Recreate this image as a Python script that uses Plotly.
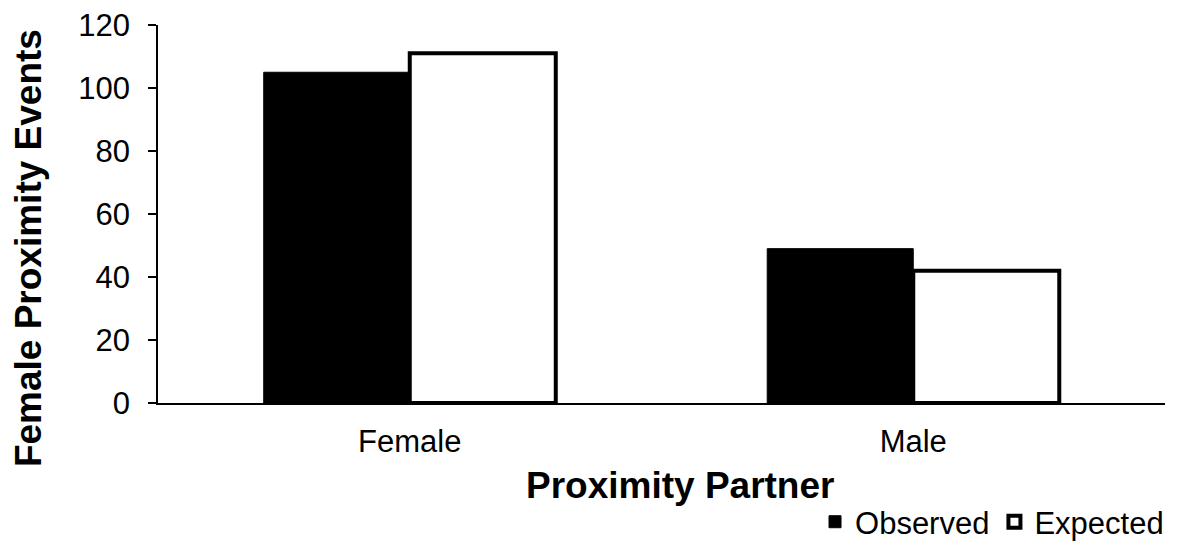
import plotly.graph_objects as go

# Proximity events per partner sex
partners = ["Female", "Male"]
observed = [105, 49]
expected = [111, 42]

y_ticks = [0, 20, 40, 60, 80, 100, 120]

FONT = "Liberation Sans, Arial, sans-serif"

fig = go.Figure()

fig.add_trace(
    go.Bar(
        x=partners,
        y=observed,
        name="Observed",
        marker=dict(color="black", line=dict(color="black", width=1)),
    )
)
fig.add_trace(
    go.Bar(
        x=partners,
        y=expected,
        name="Expected",
        marker=dict(color="white", line=dict(color="black", width=4)),
    )
)

# axis titles sit off-centre in the original, so place them by hand
fig.add_annotation(
    text="<b>Female Proximity Events</b>",
    xref="paper", yref="paper",
    x=-0.129, y=0.41,
    xanchor="center", yanchor="middle",
    textangle=-90,
    showarrow=False,
    font=dict(size=37),
)
fig.add_annotation(
    text="<b>Proximity Partner</b>",
    xref="paper", yref="paper",
    x=0.518, y=-0.217,
    xanchor="center", yanchor="middle",
    showarrow=False,
    font=dict(size=37),
)

# the page body adds an 8px margin, so the figure is 8px smaller each way
fig.update_layout(
    width=1173,
    height=533,
    margin=dict(l=150, r=16, t=17, b=138, autoexpand=False),
    paper_bgcolor="white",
    plot_bgcolor="white",
    font=dict(family=FONT, size=31, color="black"),
    barmode="group",
    bargap=0.42,
    bargroupgap=0,
    showlegend=True,
    legend=dict(
        orientation="h",
        x=1.004,
        xanchor="right",
        y=-0.315,
        yanchor="middle",
        font=dict(size=31),
        itemwidth=30,
        traceorder="normal",
    ),
    xaxis=dict(
        showline=True,
        linecolor="black",
        linewidth=1.5,
        ticks="",
        showgrid=False,
        ticklabelstandoff=10,
    ),
    yaxis=dict(
        range=[0, 120],
        tickvals=y_ticks,
        showline=True,
        linecolor="black",
        linewidth=1.5,
        ticks="outside",
        ticklen=8,
        tickwidth=1.5,
        tickcolor="black",
        showgrid=False,
        zeroline=False,
        ticklabelstandoff=12,
        ticklabeloverflow="allow",
    ),
)

fig.write_html("out.html")
